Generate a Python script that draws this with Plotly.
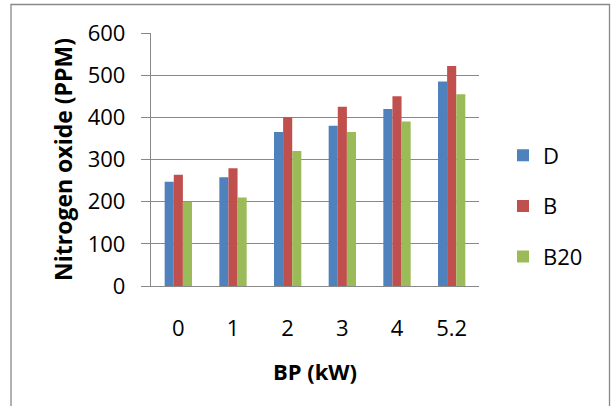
import plotly.graph_objects as go

categories = ["0", "1", "2", "3", "4", "5.2"]
series_names = ["D", "B", "B20"]
d_values = [247, 258, 365, 380, 420, 485]
b_values = [264, 279, 400, 425, 450, 522]
b20_values = [200, 210, 320, 365, 390, 455]
y_ticks = [0, 100, 200, 300, 400, 500, 600]

colors = ["#4F81BD", "#C0504D", "#9BBB59"]
FONT = "Open Sans"
GRID = "#888888"

fig = go.Figure()
for name, vals, col in zip(series_names, [d_values, b_values, b20_values], colors):
    fig.add_trace(go.Bar(x=categories, y=vals, name=name, marker_color=col,
                         marker_line_width=0, legendgroup=name))

L, R, T, B = 151, 132, 33, 120
W, H = 611, 406
pw, ph = W - L - R, H - T - B

def px_x(x):
    return (x - L) / pw

def px_y(y):
    return (H - B - y) / ph

fig.update_layout(
    width=W, height=H,
    margin=dict(l=L, r=R, t=T, b=B, pad=0),
    paper_bgcolor="white", plot_bgcolor="white",
    barmode="group", bargap=0.5, bargroupgap=0,
    font=dict(family=FONT, size=22, color="black"),
    legend=dict(x=px_x(503), xanchor="left", y=px_y(206), yanchor="middle",
                font=dict(size=22), tracegroupgap=19, traceorder="grouped",
                bgcolor="rgba(0,0,0,0)"),
    xaxis=dict(type="category", showgrid=False, showline=True, linecolor=GRID,
               linewidth=1.3, ticks="", ticklabelstandoff=22,
               tickfont=dict(size=22),
               title=dict(text="<b>BP (kW)</b>", font=dict(size=22), standoff=24)),
    yaxis=dict(range=[0, 600], tickvals=y_ticks, showgrid=True, gridcolor=GRID,
               gridwidth=1.3, showline=True, linecolor=GRID, linewidth=1.3,
               ticks="outside", ticklen=9, tickcolor=GRID, tickwidth=1.3,
               ticklabelstandoff=11, zeroline=False, tickfont=dict(size=22),
               title=dict(text="<b>Nitrogen oxide (PPM)</b>", font=dict(size=23),
                          standoff=8)),
    shapes=[dict(type="rect", xref="paper", yref="paper",
                 x0=px_x(11), x1=px_x(609.5), y0=px_y(420), y1=px_y(4.5),
                 line=dict(color="#888888", width=1.3), layer="below")],
)

fig.write_html("out.html")
